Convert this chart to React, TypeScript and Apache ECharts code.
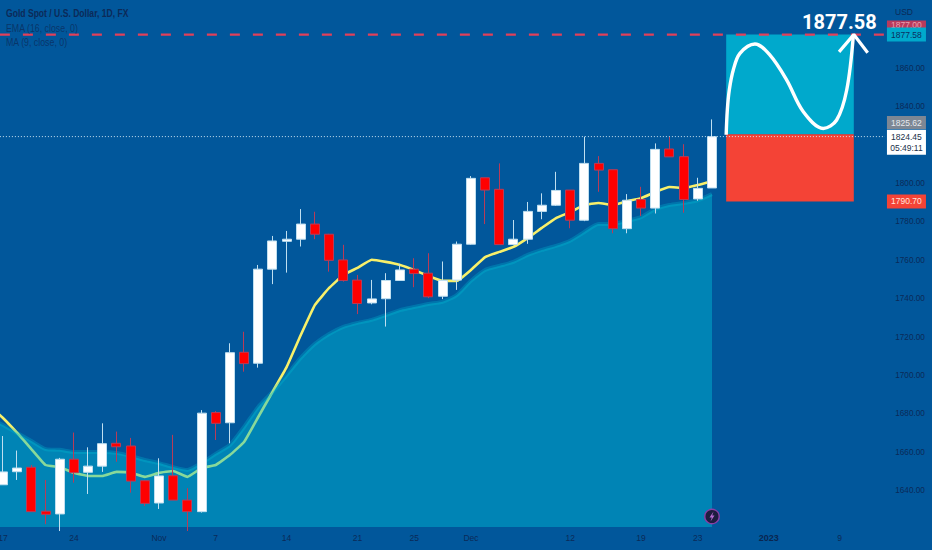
import React, { useEffect, useRef } from "react";
import * as echarts from "echarts";

const FONT = '"Liberation Sans", Arial, sans-serif';
const INK = "#0b2a58";

// [open, close, low, high]; the first slot lies off the left edge of the picture
const candles: any[] = [
  "-",
  [1643.1, 1649.8, 1643.1, 1668.5], [1649.9, 1651.8, 1645.6, 1660.9], [1652.2, 1629.1, 1628.9, 1653.4],
  [1629.3, 1627.7, 1622.6, 1645.6], [1627.9, 1656.4, 1619, 1657.1], [1656.4, 1649.4, 1644.2, 1670.3],
  [1649.6, 1652.8, 1638.3, 1662.6], [1652.8, 1664.5, 1649.8, 1675.1], [1664.7, 1662.9, 1655.1, 1670.8],
  [1663.3, 1645, 1639, 1667.5], [1645.2, 1633.4, 1632, 1645.6], [1633.6, 1647.7, 1630.5, 1656.9],
  [1647.8, 1635.1, 1635.1, 1669.1], [1635.1, 1629.1, 1619, 1641.3], [1629.1, 1680.4, 1628.6, 1682],
  [1680.7, 1675.1, 1666.4, 1681.5], [1675.4, 1711.9, 1664.7, 1716.8], [1712.1, 1706.2, 1702, 1722.8],
  [1706.4, 1755.4, 1704.1, 1757.6], [1755.4, 1770.1, 1747.6, 1772.7], [1769.9, 1771, 1753.6, 1775.3],
  [1771, 1778.9, 1767.2, 1786.7], [1778.9, 1773.6, 1771, 1785.3], [1773.6, 1760, 1754.1, 1773.8],
  [1760.2, 1749.5, 1748.9, 1768.1], [1749.7, 1737.5, 1732, 1752.4], [1737.8, 1739.9, 1737.1, 1749.8],
  [1740, 1749.5, 1725.5, 1753.3], [1749.5, 1755, 1749.5, 1758.2], [1755.4, 1753.1, 1746, 1761.1],
  [1753.3, 1741, 1740.3, 1763.7], [1741.3, 1749.5, 1739.8, 1759.4], [1749.7, 1768.4, 1744.6, 1769.8],
  [1768.4, 1802.7, 1768.1, 1803.9], [1803, 1796.6, 1778.9, 1803], [1797, 1768.2, 1768.2, 1810.5],
  [1768.2, 1771, 1767.9, 1781], [1771, 1785.5, 1768.6, 1790.4], [1785.5, 1788.7, 1781.4, 1794.9],
  [1788.7, 1796.4, 1788.3, 1806.1], [1796.6, 1780.9, 1776.7, 1796.6], [1780.9, 1810.5, 1780.4, 1824.4],
  [1810.5, 1807, 1795.7, 1814.3], [1807.2, 1776.5, 1774.1, 1807.2], [1776.5, 1791.3, 1774.1, 1794.5],
  [1791.7, 1787.2, 1783.1, 1798.3], [1787.2, 1817.8, 1784.4, 1820.9], [1818, 1813.9, 1813.9, 1824.4],
  [1814, 1791.7, 1784.8, 1820.5], [1792, 1797.5, 1791, 1803], [1797.7, 1824.4, 1797.7, 1833.4],
];

const ma9: number[] = [
  1684.6, 1677.9, 1670.1, 1661.7, 1653.4, 1652.3, 1649.3, 1647.7, 1647.7, 1649.8, 1649.4, 1647.2, 1649.3, 1650.3,
  1647.2, 1651.8, 1653.4, 1658.6, 1665.4, 1678.4, 1691.4, 1704.4, 1721.1, 1736.8, 1745.6, 1752.4, 1756.1,
  1760.3, 1759.2, 1757.6, 1755, 1751.8, 1749.3, 1749.3, 1755, 1761.7, 1764.4, 1767, 1771.6, 1776.9, 1782,
  1785.1, 1788.8, 1789.9, 1788.8, 1790.8, 1792.4, 1795.6, 1798.2, 1797.7, 1799.2, 1801.2,
];

const ema16: number[] = [
  1678, 1674.2, 1670.1, 1665.9, 1661.7, 1661.3, 1660.2, 1660.2, 1660.2, 1659.7, 1658.1, 1656, 1654.4, 1652.3,
  1650.8, 1654.4, 1659.2, 1663.8, 1673.2, 1683.6, 1691.4, 1700.2, 1709.2, 1716.5, 1721.6, 1725.3, 1727.4,
  1729, 1731.5, 1734.1, 1735.7, 1737.3, 1738.4, 1741.9, 1749.3, 1755, 1757.1, 1759.2, 1762.8, 1765.4,
  1767.5, 1770.2, 1774.8, 1778.9, 1778.9, 1780.5, 1782.5, 1786.7, 1788.8, 1789.9, 1791.3, 1794.5,
];

const slotCount = 64;
const tickLabels: Record<number, string> = {
  1: "17", 6: "24", 12: "Nov", 16: "7", 21: "14", 26: "21", 30: "25", 34: "Dec",
  41: "12", 46: "19", 50: "23", 55: "2023", 60: "9",
};
const categories: string[] = Array.from({ length: slotCount }, (_, i) => tickLabels[i] ?? "");
const priceTicks = [1640, 1660, 1680, 1700, 1720, 1740, 1760, 1780, 1800, 1840, 1860];

const targetPrice = 1877.58;
const entryPrice = 1825.62;
const stopPrice = 1790.7;
const lastPrice = 1824.45;
const boxStart = 51;
const boxEnd = 60;

const projectionCurve: number[][] = [
  [51, 1825.4], [51.08, 1838.3], [51.22, 1848.7], [51.5, 1859.1], [51.97, 1867.8], [53.03, 1872.7],
  [54.09, 1866.9], [55.27, 1853.9], [56.44, 1837.4], [57.85, 1828.7], [58.79, 1833.1], [59.5, 1848.7],
  [59.97, 1877.3],
];
const arrowHead: number[][] = [[58.96, 1868.6], [60, 1877.58], [60.98, 1868.1]];

const tagValues = [1882.8, 1877.58, 1825.62, 1824.45, 1790.7];
const tagTexts = ["1877.00", "1877.58", "1825.62", "1824.45\n05:49:11", "1790.70"];
const tagFills = ["#b93a5c", "#00a9cc", "#7d8794", "#ffffff", "#f44336"];
const tagInks = ["#e8a0b0", "#0c2f60", "#e6e9ee", "#20304a", "#ffe3dd"];
const tagHeights = [8, 14, 13, 25, 14];
const tagShifts = [0, 0, -11.8, 5.6, 0];

const legendLines = ["Gold Spot / U.S. Dollar, 1D, FX", "EMA (16, close, 0)", "MA (9, close, 0)"];
const legendSqueeze = [0.78, 0.8, 0.8];

export default function App() {
  const ref = useRef<HTMLDivElement>(null);
  useEffect(() => {
    document.body.style.margin = "0";
    const chart = echarts.init(ref.current!, null, { renderer: "svg" });
    chart.setOption({
      animation: false,
      backgroundColor: "#01579b",
      grid: { left: -18.27, top: 0, width: 907.52, height: 527, outerBoundsMode: "none" },
      xAxis: [
        {
          type: "category",
          data: categories,
          axisLine: { show: false },
          axisTick: { show: false },
          splitLine: { show: false },
          axisLabel: {
            interval: 0,
            margin: 6,
            fontFamily: FONT,
            fontSize: 8.5,
            color: INK,
            formatter: (v: string) => (v === "2023" ? `{b|${v}}` : v),
            rich: { b: { fontFamily: FONT, fontSize: 9, fontWeight: "bold", color: "#0a2650" } },
          },
        },
        { type: "value", min: -1.5, max: 62.5, show: false },
      ],
      yAxis: {
        type: "value",
        position: "right",
        min: 1621.1,
        max: 1895.6,
        axisLine: { show: false },
        axisTick: { show: false },
        splitLine: { show: false },
        axisLabel: {
          customValues: priceTicks,
          margin: 6,
          fontFamily: FONT,
          fontSize: 8.2,
          color: INK,
          formatter: (v: number) => v.toFixed(2),
        },
      },
      series: [
        {
          name: "MA",
          type: "line",
          z: 1,
          data: ma9,
          showSymbol: false,
          smooth: 0.1,
          lineStyle: { color: "#f8f06a", width: 2.6 },
        },
        {
          name: "EMA",
          type: "line",
          z: 2,
          data: ema16,
          showSymbol: false,
          smooth: 0.2,
          lineStyle: { color: "rgba(0,188,212,0.3)", width: 4 },
          areaStyle: { color: "rgba(0,188,212,0.45)", opacity: 1, origin: "start" },
        },
        {
          name: "Gold",
          type: "candlestick",
          z: 3,
          data: candles,
          barWidth: 9.5,
          itemStyle: {
            color: "#ffffff",
            color0: "#ff0000",
            borderColor: "#bfdff0",
            borderColor0: "#b83b58",
            borderWidth: 1,
          },
        },
        {
          name: "Boxes",
          type: "custom",
          z: 4,
          xAxisIndex: 1,
          clip: false,
          data: [
            [boxStart, targetPrice, boxEnd, entryPrice, 0],
            [boxStart, entryPrice, boxEnd, stopPrice, 1],
          ],
          encode: { x: [0, 2], y: [1, 3] },
          renderItem: (_: any, api: any) => {
            const a = api.coord([api.value(0), api.value(1)]);
            const b = api.coord([api.value(2), api.value(3)]);
            return {
              type: "rect",
              shape: { x: a[0], y: a[1], width: b[0] - a[0], height: b[1] - a[1] },
              style: { fill: api.value(4) === 0 ? "#00a9cc" : "#f44336" },
            };
          },
        },
        {
          name: "Target",
          type: "line",
          z: 5,
          xAxisIndex: 1,
          symbol: "none",
          data: [[-0.22, targetPrice], [62.3, targetPrice]],
          lineStyle: { color: "#e2405a", width: 2.4, type: [10, 13] },
        },
        {
          name: "Last",
          type: "line",
          z: 5,
          xAxisIndex: 1,
          symbol: "none",
          data: [[-0.22, lastPrice], [62.2, lastPrice]],
          lineStyle: { color: "rgba(225,240,250,0.9)", width: 1, type: [1, 2] },
        },
        {
          name: "Curve",
          type: "line",
          z: 6,
          xAxisIndex: 1,
          symbol: "none",
          smooth: 0.35,
          clip: false,
          data: projectionCurve,
          lineStyle: { color: "#ffffff", width: 3.4 },
        },
        {
          name: "Arrow",
          type: "line",
          z: 6,
          xAxisIndex: 1,
          symbol: "none",
          clip: false,
          data: arrowHead,
          lineStyle: { color: "#ffffff", width: 3.2 },
        },
        {
          name: "Tags",
          type: "custom",
          z: 7,
          xAxisIndex: 1,
          clip: false,
          data: tagValues.map((v, i) => [0, v, i]),
          encode: { x: 0, y: 1 },
          renderItem: (params: any, api: any) => {
            const i = api.value(2);
            const y = api.coord([0, api.value(1)])[1] + tagShifts[i];
            const left = params.coordSys.x + params.coordSys.width - 2.3;
            const h = tagHeights[i];
            return {
              type: "group",
              children: [
                { type: "rect", shape: { x: left, y: y - h / 2, width: 39, height: h }, style: { fill: tagFills[i] } },
                {
                  type: "text",
                  style: {
                    x: left + 19.5,
                    y,
                    text: tagTexts[i],
                    fill: tagInks[i],
                    align: "center",
                    verticalAlign: "middle",
                    fontFamily: FONT,
                    fontSize: 8.5,
                    lineHeight: 11,
                  },
                },
              ],
            };
          },
        },
      ],
      graphic: [
        ...legendLines.map((t, i) => ({
          type: "text",
          x: 6,
          y: 8 + i * 14.3,
          scaleX: legendSqueeze[i],
          z: 20,
          style: {
            text: t,
            fill: i === 0 ? "#0c2a58" : "rgba(12,42,88,0.75)",
            fontFamily: FONT,
            fontSize: 11,
            fontWeight: i === 0 ? "bold" : "normal",
          },
        })),
        {
          type: "text",
          x: 895,
          y: 7,
          z: 20,
          style: { text: "USD", fill: INK, fontFamily: FONT, fontSize: 8.5 },
        },
        {
          type: "text",
          x: 802,
          y: 12,
          z: 20,
          style: { text: "1877.58", fill: "#ffffff", fontFamily: "Roboto", fontSize: 20, fontWeight: "bold" },
        },
        {
          type: "circle",
          z: 20,
          shape: { cx: 712, cy: 516.5, r: 7.2 },
          style: { fill: "#1d1c3f", stroke: "#8a3ea5", lineWidth: 1.4 },
        },
        {
          type: "polygon",
          z: 21,
          shape: { points: [[713.5, 511.5], [709.5, 517.5], [711.8, 517.5], [710.5, 521.5], [714.5, 515.5], [712.2, 515.5]] },
          style: { fill: "#b56bd0" },
        },
      ],
    });
    return () => chart.dispose();
  }, []);
  return <div ref={ref} style={{ position: "absolute", left: 0, top: 0, width: 932, height: 550 }} />;
}
